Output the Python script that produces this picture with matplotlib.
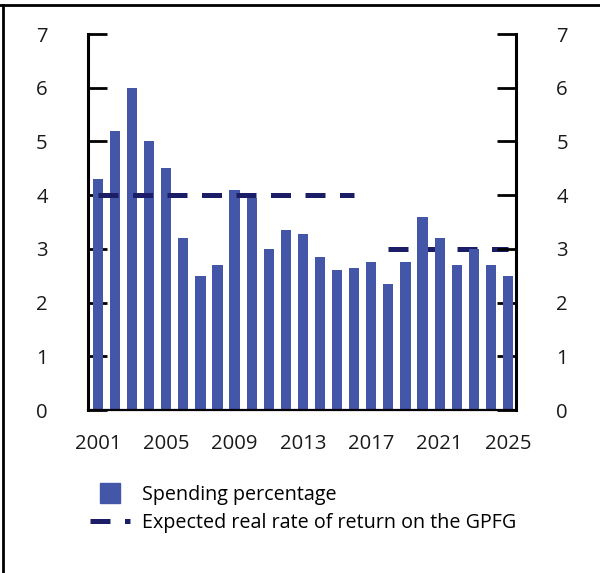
import numpy as np
import matplotlib.pyplot as plt
from matplotlib.lines import Line2D

plt.rcParams['font.family'] = ['Open Sans', 'DejaVu Sans']

years = np.arange(2001, 2026)
spending = [4.3, 5.2, 6.0, 5.0, 4.5, 3.2, 2.5, 2.7, 4.1, 3.95,
            3.0, 3.35, 3.27, 2.85, 2.6, 2.65, 2.75, 2.35, 2.75, 3.6,
            3.2, 2.7, 3.0, 2.7, 2.5]
# expected real return: 4 % rule up to 2016, 3 % from 2018 on
rule_4_years = [2001, 2016]
rule_4 = [4, 4]
rule_3_years = [2018, 2025]
rule_3 = [3, 3]
xtick_years = [2001, 2005, 2009, 2013, 2017, 2021, 2025]

bar_col = '#4356a8'
line_col = '#1b1e66'

fig = plt.figure(figsize=(6, 5.73), dpi=100)
ax = fig.add_axes([88 / 600, 1 - 410 / 573, 428 / 600, 376 / 573])

ax.bar(years, spending, width=0.6, color=bar_col, zorder=2)
ax.plot(rule_4_years, rule_4, color=line_col, lw=3.6,
        dashes=(4, 2.9), dash_capstyle='butt', zorder=3)
ax.plot(rule_3_years, rule_3, color=line_col, lw=3.6,
        dashes=(4, 2.9), dash_capstyle='butt', zorder=1)

ax.set_xlim(2000.42, 2025.47)
ax.set_ylim(0, 7)
ax.set_yticks(range(0, 8))
ax.set_xticks(xtick_years)

ax.spines['top'].set_visible(False)
for s in ['left', 'right']:
    ax.spines[s].set_linewidth(2.2)
ax.spines['bottom'].set_linewidth(1.6)

ax.tick_params(axis='y', direction='in', length=14, width=2, labelsize=14.6,
               left=True, right=True, labelleft=True, labelright=True, pad=29)
ax.tick_params(axis='x', length=0, labelsize=14.6, pad=17)
for lab in ax.get_yticklabels() + ax.get_xticklabels():
    lab.set_color('#1a1a1a')

handles = [Line2D([], [], marker='s', markersize=14.4, color=bar_col, linestyle='none'),
           Line2D([], [], color=line_col, lw=3.6, dashes=(4, 2.9), dash_capstyle='butt')]
fig.legend(handles, ['Spending percentage', 'Expected real rate of return on the GPFG'],
           loc='upper left', bbox_to_anchor=(90 / 600, 1 - 485 / 573),
           frameon=False, fontsize=14.2, handlelength=2.03, handletextpad=0.6,
           borderpad=0, borderaxespad=0, labelspacing=0.42)

# frame lines on top and left of the figure
fig.add_artist(Line2D([0, 1], [1 - 5 / 573, 1 - 5 / 573], color='black', lw=2,
                      transform=fig.transFigure))
fig.add_artist(Line2D([3 / 600, 3 / 600], [0, 1 - 5 / 573], color='black', lw=2,
                      transform=fig.transFigure))

fig.savefig('out.png', dpi=100)
